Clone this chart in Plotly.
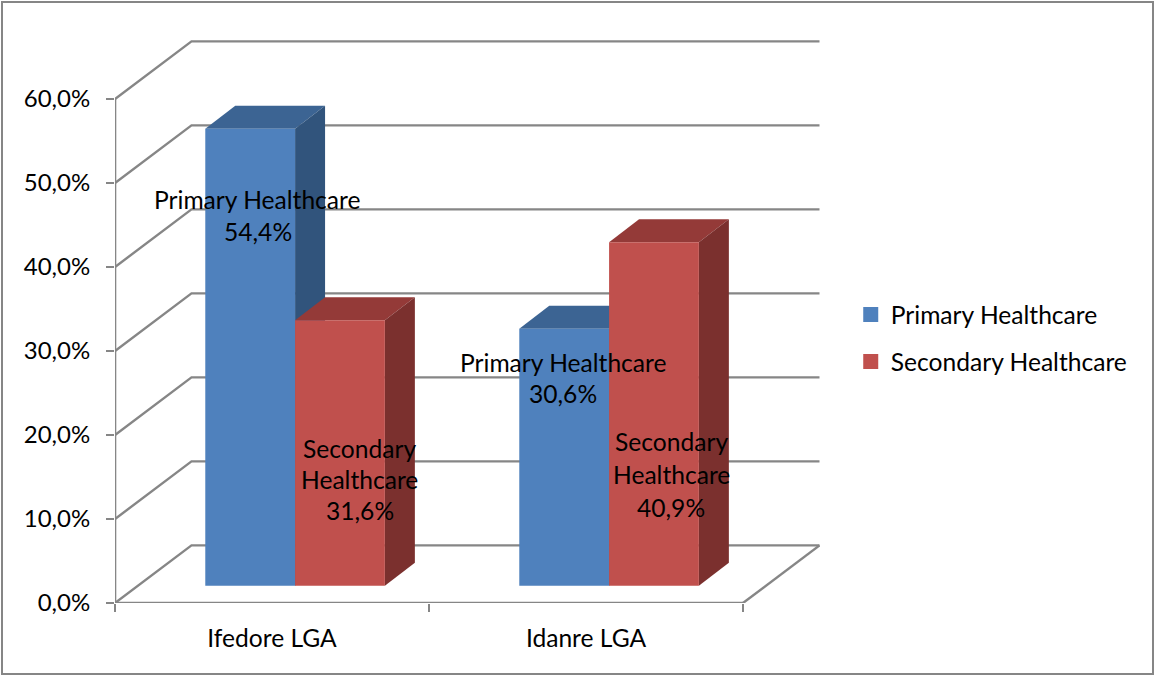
import plotly.graph_objects as go

categories = ["Ifedore LGA", "Idanre LGA"]
primary_values = [54.4, 30.6]
secondary_values = [31.6, 40.9]
value_ticks = [0, 10, 20, 30, 40, 50, 60]

FONT = "Lato"
TEXT_SIZE = 24.6
GRID = "#868686"
SERIES = [
    ("Primary Healthcare", primary_values, "#4f81bd", "#3c6493", "#31547c"),
    ("Secondary Healthcare", secondary_values, "#c0504d", "#943a38", "#7b302e"),
]

# Oblique projection: depth is expressed as an (x, y) shift in axis units.
WALL_DX, WALL_DY = 0.2436, 6.86      # floor/back wall offset
BAR_DX, BAR_DY = 0.0955, 2.74        # bar depth
FLOOR_LIFT = 2.05                    # bars stand this far back from the front axis
BAR_W = 0.286
GROUP_SHIFT = 0.0735


def pct(v):
    return f"{v:.1f}%".replace(".", ",")


fig = go.Figure()


def line(xs, ys, width=2.4, color=GRID):
    fig.add_trace(go.Scatter(x=xs, y=ys, mode="lines", showlegend=False, hoverinfo="skip",
                             line=dict(color=color, width=width), cliponaxis=False))


def face(xs, ys, color):
    fig.add_trace(go.Scatter(x=xs, y=ys, mode="lines", fill="toself", fillcolor=color,
                             line=dict(width=0), showlegend=False, hoverinfo="skip",
                             cliponaxis=False))


x_end = float(len(categories))

# Back wall and side wall gridlines, plus the floor edge
for t in value_ticks:
    line([0, WALL_DX, x_end + WALL_DX], [t, t + WALL_DY, t + WALL_DY])
line([x_end, x_end + WALL_DX], [0, WALL_DY])

# Front axes
line([0, 0], [0, value_ticks[-1]], width=2.6)
line([0, x_end], [0, 0], width=2.6)

# Bars, drawn back to front so each one hides the side of its neighbour
for c in range(len(categories)):
    centre = c + 0.5 + GROUP_SHIFT
    for s, (name, values, front, top, side) in enumerate(SERIES):
        left = centre + (s - 1) * BAR_W
        right = left + BAR_W
        v = values[c]
        base = FLOOR_LIFT
        head = base + v
        face([left, right, right + BAR_DX, left + BAR_DX, left],
             [head, head, head + BAR_DY, head + BAR_DY, head], top)
        face([right, right + BAR_DX, right + BAR_DX, right, right],
             [base, base + BAR_DY, head + BAR_DY, head, base], side)
        face([left, right, right, left, left], [base, base, head, head, base], front)

# Legend entries
for name, _, front, _, _ in SERIES:
    fig.add_trace(go.Scatter(x=[None], y=[None], mode="markers", name=name, legendgroup=name,
                             marker=dict(symbol="square", size=15, color=front)))

# Data labels: one annotation per text line, centred on the given axis position
label_lines = [
    (0.455, [47.98, 44.2], ["Primary Healthcare", pct(primary_values[0])]),
    (0.78, [18.4, 14.7, 11.0], ["Secondary", "Healthcare", pct(secondary_values[0])]),
    (1.427, [28.6, 24.9], ["Primary Healthcare", pct(primary_values[1])]),
    (1.771, [19.2, 15.3, 11.4], ["Secondary", "Healthcare", pct(secondary_values[1])]),
]
for x, ys, texts in label_lines:
    for y, text in zip(ys, texts):
        fig.add_annotation(x=x, y=y, text=text, showarrow=False, xanchor="center", yanchor="middle",
                           font=dict(family=FONT, size=TEXT_SIZE, color="#000000"))

fig.update_layout(
    width=1155, height=675,
    margin=dict(l=115, r=335, t=40, b=72),
    paper_bgcolor="white", plot_bgcolor="white",
    font=dict(family=FONT, size=TEXT_SIZE, color="#000000"),
    showlegend=True,
    legend=dict(x=1.0436, y=0.4705, xanchor="left", yanchor="middle", tracegroupgap=12,
                font=dict(family=FONT, size=TEXT_SIZE), itemclick=False, itemdoubleclick=False,
                bgcolor="rgba(0,0,0,0)"),
    xaxis=dict(range=[0, 705 / 314], showgrid=False, zeroline=False, showline=False,
               tickmode="array", tickvals=[i + 0.5 for i in range(len(categories))],
               ticktext=categories, ticks="", ticklabelstandoff=18,
               minor=dict(tickmode="array", tickvals=list(range(len(categories) + 1)),
                          ticks="outside", ticklen=8, tickwidth=2, tickcolor=GRID, showgrid=False)),
    yaxis=dict(range=[0, 563 / 8.4], showgrid=False, zeroline=False, showline=False,
               tickmode="array", tickvals=value_ticks, ticktext=[pct(t) for t in value_ticks],
               ticks="outside", ticklen=8, tickwidth=2, tickcolor=GRID, ticklabelstandoff=11,
               tickfont=dict(family=FONT, size=24)),
    shapes=[dict(type="rect", xref="paper", yref="paper", x0=-113 / 705, x1=1038 / 705,
                 y0=-71 / 563, y1=38 / 563 + 1, line=dict(color=GRID, width=2), layer="below")],
)

fig.write_html("out.html")
